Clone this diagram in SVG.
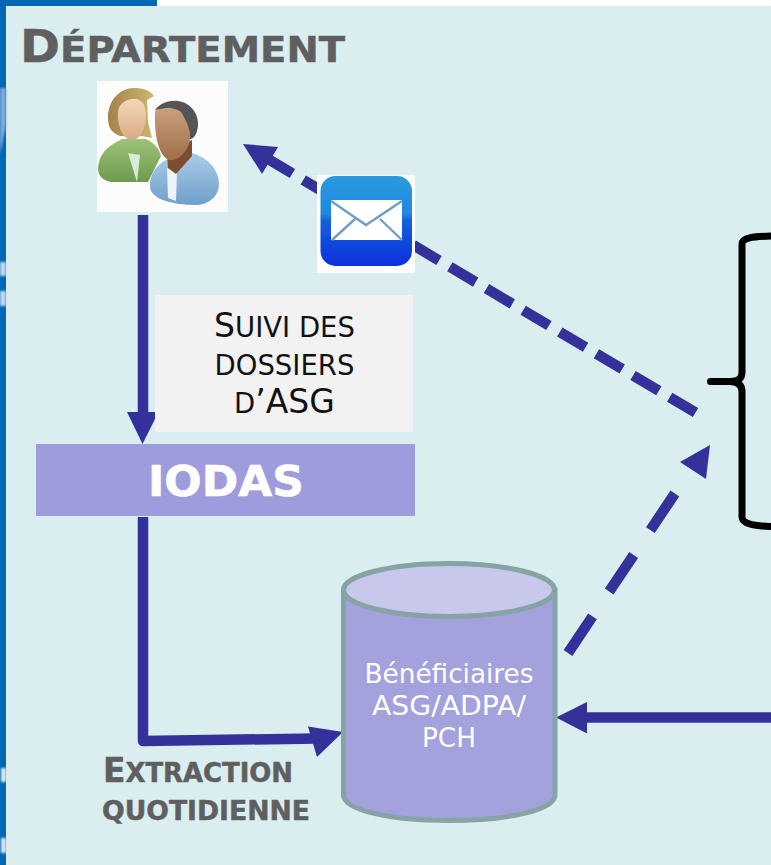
<svg xmlns="http://www.w3.org/2000/svg" width="771" height="865" viewBox="0 0 771 865">
<style>
text{font-family:"DejaVu Sans",Verdana,sans-serif}
.grey{fill:#5f5f5f;font-weight:700;stroke:#5f5f5f;stroke-width:.5}
.ln{fill:none;stroke:#34329a;stroke-width:10.500}
.hd{fill:#34329a}
.sv{fill:#111;font-size:27.500px;text-anchor:middle}
.big{font-size:33px}
.wh{fill:#fff;font-size:26.300px;text-anchor:middle}
</style>
<defs>
<filter id="soft" x="-5%" y="-5%" width="110%" height="110%"><feGaussianBlur stdDeviation=".7"/></filter>
<filter id="softer" x="-50%" y="-20%" width="200%" height="140%"><feGaussianBlur stdDeviation="1"/></filter>
<linearGradient id="mail" x1="0" y1="0" x2="0" y2="1"><stop offset="0" stop-color="#2a9ade"/><stop offset=".42" stop-color="#2188e0"/><stop offset=".5" stop-color="#1560dc"/><stop offset="1" stop-color="#0a30dc"/></linearGradient>
<linearGradient id="green" x1="0" y1="0" x2="0" y2="1"><stop offset="0" stop-color="#9cc27a"/><stop offset="1" stop-color="#6f9a4e"/></linearGradient>
<linearGradient id="blue" x1="0" y1="0" x2="0" y2="1"><stop offset="0" stop-color="#a9cde8"/><stop offset="1" stop-color="#6f9fcb"/></linearGradient>
<linearGradient id="hair" x1="0" y1="0" x2="1" y2="0"><stop offset="0" stop-color="#a4824a"/><stop offset="1" stop-color="#cdb66e"/></linearGradient>
<linearGradient id="skinA" x1="0" y1="0" x2="0" y2="1"><stop offset="0" stop-color="#f2d8ba"/><stop offset="1" stop-color="#d9ab82"/></linearGradient>
<linearGradient id="skinB" x1="0" y1="0" x2="0" y2="1"><stop offset="0" stop-color="#c9a07e"/><stop offset="1" stop-color="#a06e48"/></linearGradient>
</defs>
<rect width="771" height="865" fill="#daedef"/>
<rect width="771" height="6" fill="#fff"/>
<rect width="157" height="6" fill="#0067b5"/>
<rect width="6" height="865" fill="#0067b5"/>
<g filter="url(#softer)">
<path d="M0 88H6V125L0 155Z" fill="#7fa9dc"/>
<rect x="0" y="262" width="6" height="14" fill="#c0d8ee"/>
<rect x="0" y="291" width="6" height="15" fill="#c0d8ee"/>
<rect x="1" y="768" width="5" height="14" fill="#dcebf6"/>
<rect x="1" y="838" width="5" height="15" fill="#dcebf6"/>
</g>

<g id="title"><text x="20" y="62" class="grey" font-size="45" textLength="325" lengthAdjust="spacingAndGlyphs">D<tspan font-size="36">ÉPARTEMENT</tspan></text></g>

<g id="connectors">
<path class="ln" d="M143 215V414"/>
<path class="hd" d="M127 412H158.500L142.500 444Z"/>
<path class="ln" stroke-linejoin="round" d="M143 517V741L316 738.500"/>
<path class="hd" d="M343 732L308 726.500L317 757Z"/>
<path class="ln" stroke-width="11" d="M771 717.500H585"/>
<path class="hd" d="M556 717.500L587 702V733.500Z"/>
<path class="ln" stroke-dasharray="30 12.600" d="M695.500 412.500L268 159"/>
<path class="hd" d="M243 144L278 147L262 174Z"/>
<path class="ln" stroke-dasharray="44 30" d="M568 653L692 468"/>
<path class="hd" d="M710 445L680 462L706 479Z"/>
</g>

<g id="persons">
<rect x="97" y="81" width="131" height="131" fill="#fcfcfc"/>
<g filter="url(#soft)">
<path d="M98 168C99 152 110 145 122 139L146 139C154 143 159 148 161 156L148 182H112C103 181 98 176 98 168Z" fill="url(#green)"/>
<path d="M128 153L137 182L140 155Z" fill="#d6ecd4"/>
<path d="M108 118C108 100 120 88 134 88C142 88 150 90 154 96L147 100L148 122L152 138L142 136L120 136C112 133 108 128 108 118Z" fill="url(#hair)"/>
<path d="M118 112C119 103 128 98 136 99C143 100 146 106 146 116C146 128 140 141 131 140C122 139 117 124 118 112Z" fill="url(#skinA)"/>
<path d="M150 188C149 175 156 165 166 160L192 153C206 157 218 168 219 183C219 196 210 204 197 205C180 205 153 202 150 188Z" fill="url(#blue)"/>
<path d="M167 168L168 198L176 201L177 172Z" fill="#eef4f9"/>
<path d="M167 152L168 168L176 174L192 156L192 140Z" fill="#7d4e2e"/>
<path d="M155 110C160 103 170 100 178 101C192 103 199 115 198 126C197 134 194 139 190 139L184 120L170 108Z" fill="#555558"/>
<path d="M155 111C165 106 175 108 181 112C186 120 191 130 190 139C189 150 178 162 169 160C160 156 154 140 155 111Z" fill="url(#skinB)"/>
</g>
</g>

<g id="mail-icon">
<rect x="317" y="175" width="98" height="98" fill="#fdfdfd"/>
<g filter="url(#soft)">
<rect x="320.500" y="176" width="91.500" height="90" rx="15" fill="url(#mail)"/>
<path d="M331 200H402V240H331Z" fill="#fff"/>
<path d="M331 201L366 225L402 201M332 240L355 219M402 240L380 219" fill="none" stroke="#6f9dc9" stroke-width="2.400"/>
</g>
</g>

<g id="suivi">
<rect x="155" y="295" width="258" height="137" fill="#f2f2f2"/>
<text x="284.500" y="337" class="sv"><tspan class="big">S</tspan>UIVI DES</text>
<text x="284.500" y="375" class="sv">DOSSIERS</text>
<text x="284.500" y="413" class="sv">D<tspan class="big">’ASG</tspan></text>
</g>

<g id="iodas">
<rect x="36" y="444" width="379" height="72" fill="#9f9cdd"/>
<text x="226" y="496" fill="#fff" stroke="#fff" stroke-width=".6" font-weight="700" font-size="42" text-anchor="middle" textLength="156" lengthAdjust="spacingAndGlyphs">IODAS</text>
</g>

<g id="beneficiaires">
<path d="M343.500 590V795C343.500 810 390 820.500 449 820.500S555 810 555 795V590Z" fill="#a3a2dd" stroke="#86a3a5" stroke-width="5"/>
<ellipse cx="449" cy="590" rx="105.500" ry="26.500" fill="#c7c8ec" stroke="#86a3a5" stroke-width="5"/>
<text x="449" y="683" class="wh">Bénéficiaires</text>
<text x="449" y="715" class="wh" textLength="154" lengthAdjust="spacingAndGlyphs">ASG/ADPA/</text>
<text x="449" y="747" class="wh">PCH</text>
</g>

<g id="extraction">
<text x="103" y="782" class="grey" font-size="33" textLength="190" lengthAdjust="spacingAndGlyphs">E<tspan font-size="26">XTRACTION</tspan></text>
<text x="102" y="820" class="grey" font-size="26" textLength="208" lengthAdjust="spacingAndGlyphs">QUOTIDIENNE</text>
</g>

<g id="brace">
<path d="M771 236C755 236.500 742 237 742 244V372C742 378 739 381.500 730 381.500H710.500M730 381.500C739 381.500 742 386 742 392V517C742 524 755 526 771 526.500" fill="none" stroke="#000" stroke-width="7" stroke-linecap="round"/>
</g>
</svg>
